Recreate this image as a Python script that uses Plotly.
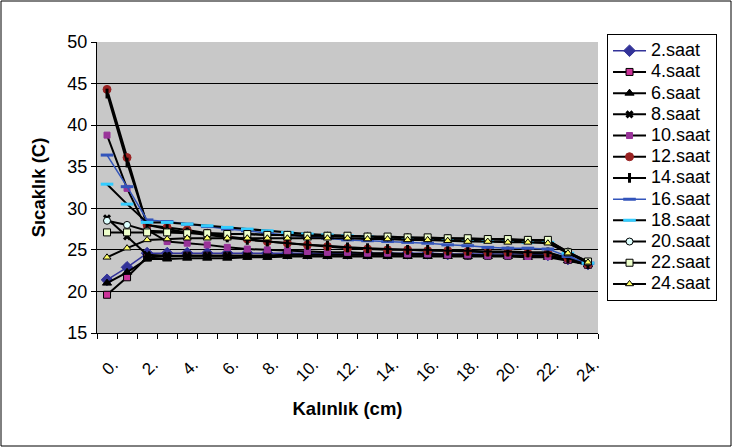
import plotly.graph_objects as go

thickness = [0.5 + i for i in range(25)]
tick_positions = thickness[::2]
tick_labels = ["0.", "2.", "4.", "6.", "8.", "10.", "12.", "14.", "16.", "18.", "20.", "22.", "24."]

s2 = [21.4, 22.9, 24.6, 24.6, 24.6, 24.6, 24.6, 24.6, 24.6, 24.6, 24.6, 24.6, 24.6, 24.6, 24.6, 24.6, 24.6, 24.5, 24.5, 24.5, 24.5, 24.5, 24.4, 23.9, 23.3]
s4 = [19.6, 21.7, 24.1, 24.2, 24.3, 24.3, 24.3, 24.3, 24.3, 24.4, 24.4, 24.4, 24.4, 24.4, 24.4, 24.4, 24.4, 24.4, 24.3, 24.3, 24.3, 24.3, 24.3, 23.8, 23.2]
s6 = [21.0, 22.3, 23.9, 23.9, 24.0, 24.0, 24.0, 24.1, 24.1, 24.2, 24.2, 24.2, 24.2, 24.2, 24.2, 24.2, 24.2, 24.2, 24.2, 24.2, 24.2, 24.1, 24.1, 23.7, 23.2]
s8 = [28.8, 26.6, 24.4, 24.3, 24.3, 24.3, 24.3, 24.3, 24.3, 24.4, 24.4, 24.4, 24.4, 24.4, 24.4, 24.4, 24.4, 24.4, 24.4, 24.3, 24.3, 24.3, 24.3, 23.8, 23.2]
s10 = [38.8, 32.4, 27.4, 26.0, 25.8, 25.6, 25.3, 25.1, 25.0, 24.9, 24.8, 24.7, 24.7, 24.6, 24.6, 24.5, 24.5, 24.4, 24.4, 24.3, 24.3, 24.2, 24.2, 23.8, 23.2]
s12 = [44.3, 36.1, 28.0, 27.7, 27.4, 27.0, 26.6, 26.3, 26.0, 25.8, 25.6, 25.4, 25.2, 25.1, 25.0, 25.0, 24.9, 24.9, 24.8, 24.7, 24.7, 24.6, 24.6, 24.0, 23.3]
s14 = [43.8, 35.5, 28.0, 27.5, 27.1, 26.8, 26.5, 26.2, 26.0, 25.8, 25.6, 25.5, 25.3, 25.2, 25.1, 25.0, 25.0, 24.9, 24.9, 24.8, 24.8, 24.7, 24.7, 24.0, 23.3]
s16 = [36.4, 32.6, 28.6, 28.4, 28.1, 27.8, 27.5, 27.3, 27.0, 26.8, 26.6, 26.4, 26.2, 26.1, 26.0, 25.9, 25.8, 25.6, 25.5, 25.3, 25.2, 25.2, 25.1, 24.2, 23.4]
s18 = [32.9, 30.5, 28.3, 28.3, 28.1, 27.9, 27.7, 27.5, 27.3, 27.1, 26.9, 26.8, 26.7, 26.6, 26.5, 26.4, 26.3, 26.2, 26.1, 26.0, 26.0, 25.9, 25.9, 24.6, 23.4]
s20 = [28.5, 28.0, 27.3, 27.2, 27.1, 27.0, 26.9, 26.9, 26.8, 26.8, 26.7, 26.7, 26.6, 26.6, 26.5, 26.5, 26.4, 26.4, 26.3, 26.3, 26.2, 26.2, 26.1, 24.8, 23.5]
s22 = [27.1, 27.1, 27.1, 27.1, 27.0, 27.0, 26.9, 26.9, 26.8, 26.8, 26.7, 26.7, 26.7, 26.6, 26.6, 26.5, 26.5, 26.4, 26.4, 26.3, 26.3, 26.2, 26.2, 24.7, 23.6]
s24 = [24.1, 25.2, 26.2, 26.3, 26.4, 26.4, 26.4, 26.4, 26.4, 26.4, 26.4, 26.4, 26.4, 26.3, 26.3, 26.2, 26.2, 26.1, 26.0, 26.0, 25.9, 25.9, 25.8, 24.6, 23.5]

series = [
    ("2.saat", s2, "#333399", "diamond", "#333399", "#333399", 9),
    ("4.saat", s4, "black", "square", "#CC3399", "black", 7),
    ("6.saat", s6, "black", "triangle-up", "black", "black", 8),
    ("8.saat", s8, "black", "x-thin", "black", "black", 6),
    ("10.saat", s10, "black", "square", "#993399", "#993399", 6),
    ("12.saat", s12, "black", "circle", "#992222", "#992222", 8),
    ("14.saat", s14, "black", "line-ns", "black", "black", 7),
    ("16.saat", s16, "#3355BB", "line-ew", "#3355BB", "#3355BB", 9),
    ("18.saat", s18, "black", "line-ew", "#33CCFF", "#33CCFF", 9),
    ("20.saat", s20, "black", "circle", "#DDFFFF", "black", 7),
    ("22.saat", s22, "black", "square", "#EEFFCC", "black", 7),
    ("24.saat", s24, "black", "triangle-up", "#FFFF66", "black", 7),
]

fig = go.Figure()
for name, ys, lc, sym, fc, mc, sz in series:
    lw = 1.5 if lc != "black" else 2
    mlw = 3 if sym in ("line-ew", "line-ns", "x-thin") else 1
    fig.add_trace(go.Scatter(
        x=thickness, y=ys, name='<span style="font-size:18px">' + name + '</span>',
        mode="lines+markers",
        line=dict(color=lc, width=lw),
        marker=dict(symbol=sym, size=sz, color=fc, line=dict(color=mc, width=mlw)),
    ))

fig.update_layout(
    width=732, height=448,
    margin=dict(l=97, r=134, t=42, b=115),
    paper_bgcolor="white", plot_bgcolor="#C8C8C8",
    font=dict(family="Arial, Liberation Sans, sans-serif", size=18, color="black"),
    showlegend=True,
    legend=dict(
        x=1.018, y=1.027, xanchor="left", yanchor="top",
        bordercolor="black", borderwidth=1, bgcolor="white",
        font=dict(size=14), tracegroupgap=0, itemwidth=33, maxheight=420,
    ),
    xaxis=dict(
        range=[0, 25], showgrid=False, zeroline=False,
        showline=True, linecolor="black", linewidth=1,
        tickvals=tick_positions, ticktext=tick_labels, tickangle=-45,
        ticks="", tickfont=dict(size=17), ticklabelstandoff=14, ticklabelshift=6,
        minor=dict(tick0=0, dtick=1, ticks="outside", ticklen=5, tickcolor="black", showgrid=False),
        title=dict(text="<b>Kalınlık (cm)</b>", font=dict(size=18.5), standoff=17),
    ),
    yaxis=dict(
        range=[15, 50], dtick=5, showgrid=True, gridcolor="black", gridwidth=1,
        zeroline=False, showline=True, linecolor="black", linewidth=1,
        ticks="outside", ticklen=5, tickcolor="black", tickfont=dict(size=18),
        title=dict(text="<b>Sıcaklık (C)</b>", font=dict(size=18.5), standoff=16),
    ),
)

# outer chart border
fig.add_shape(type="rect", xref="paper", yref="paper",
              x0=-96/501, x1=(731-97)/501, y0=-113/291, y1=(333-1)/291,
              line=dict(color="black", width=1), fillcolor="rgba(0,0,0,0)", layer="below")

fig.write_html("out.html")
